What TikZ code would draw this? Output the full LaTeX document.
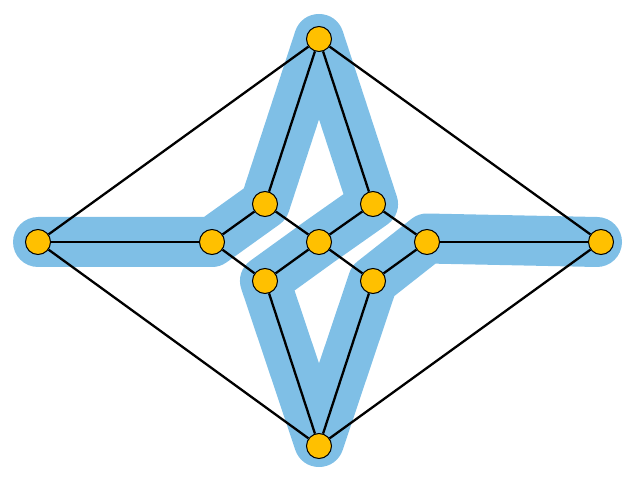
\documentclass[tikz,border=0pt]{standalone}
\usetikzlibrary{backgrounds}
\definecolor{bandblue}{RGB}{127,191,230}
\definecolor{dotgold}{RGB}{255,192,0}
\tikzset{
	vtx/.style={circle, draw=black, line width=1pt, fill=dotgold, minimum size=25pt, inner sep=0pt},
	edge/.style={line width=2.3pt, black},
	band/.style={line width=50pt, bandblue, line cap=round, line join=round}
}
\begin{document}
\begin{tikzpicture}[x=1pt, y=-1pt]
	\useasboundingbox (0,0) rectangle (640,486);
	
	% --- VERTICES ---
	\node[vtx] (vT) at (319,39) {};
	\node[vtx] (vB) at (319,446) {};
	\node[vtx] (vL) at (38,242) {};
	\node[vtx] (vR) at (601,242) {};
	\node[vtx] (vIL) at (212,242) {};
	\node[vtx] (vIR) at (427,242) {};
	\node[vtx] (vC) at (319,242) {};
	\node[vtx] (vUL) at (265,204) {};
	\node[vtx] (vUR) at (373,204) {};
	\node[vtx] (vLL) at (265,281) {};
	\node[vtx] (vLR) at (373,281) {};
	
	% --- EDGES ---
	\draw[edge] (vT) -- (vL);
	\draw[edge] (vT) -- (vR);
	\draw[edge] (vB) -- (vL);
	\draw[edge] (vB) -- (vR);
	\draw[edge] (vL) -- (vIL);
	\draw[edge] (vIR) -- (vR);
	\draw[edge] (vIL) -- (vUL);
	\draw[edge] (vIL) -- (vLL);
	\draw[edge] (vUL) -- (vT);
	\draw[edge] (vUR) -- (vT);
	\draw[edge] (vLL) -- (vB);
	\draw[edge] (vLR) -- (vB);
	\draw[edge] (vUL) -- (vC);
	\draw[edge] (vC) -- (vLR);
	\draw[edge] (vUR) -- (vC);
	\draw[edge] (vC) -- (vLL);
	\draw[edge] (vUR) -- (vIR);
	\draw[edge] (vLR) -- (vIR);
	
	% --- HIGHLIGHTED PATH ---
	\begin{scope}[on background layer]
		\draw[band] (vL.center) -- (vIL.center) -- (vUL.center) -- (vT.center)
		-- (vUR.center) -- (vC.center) -- (vLL.center) -- ([yshift=4pt]vB.center)
		-- (vLR.center) -- ([yshift=3.5pt]vIR.center) -- ([xshift=-4pt]vR.center);
	\end{scope}
	
\end{tikzpicture}
\end{document}
